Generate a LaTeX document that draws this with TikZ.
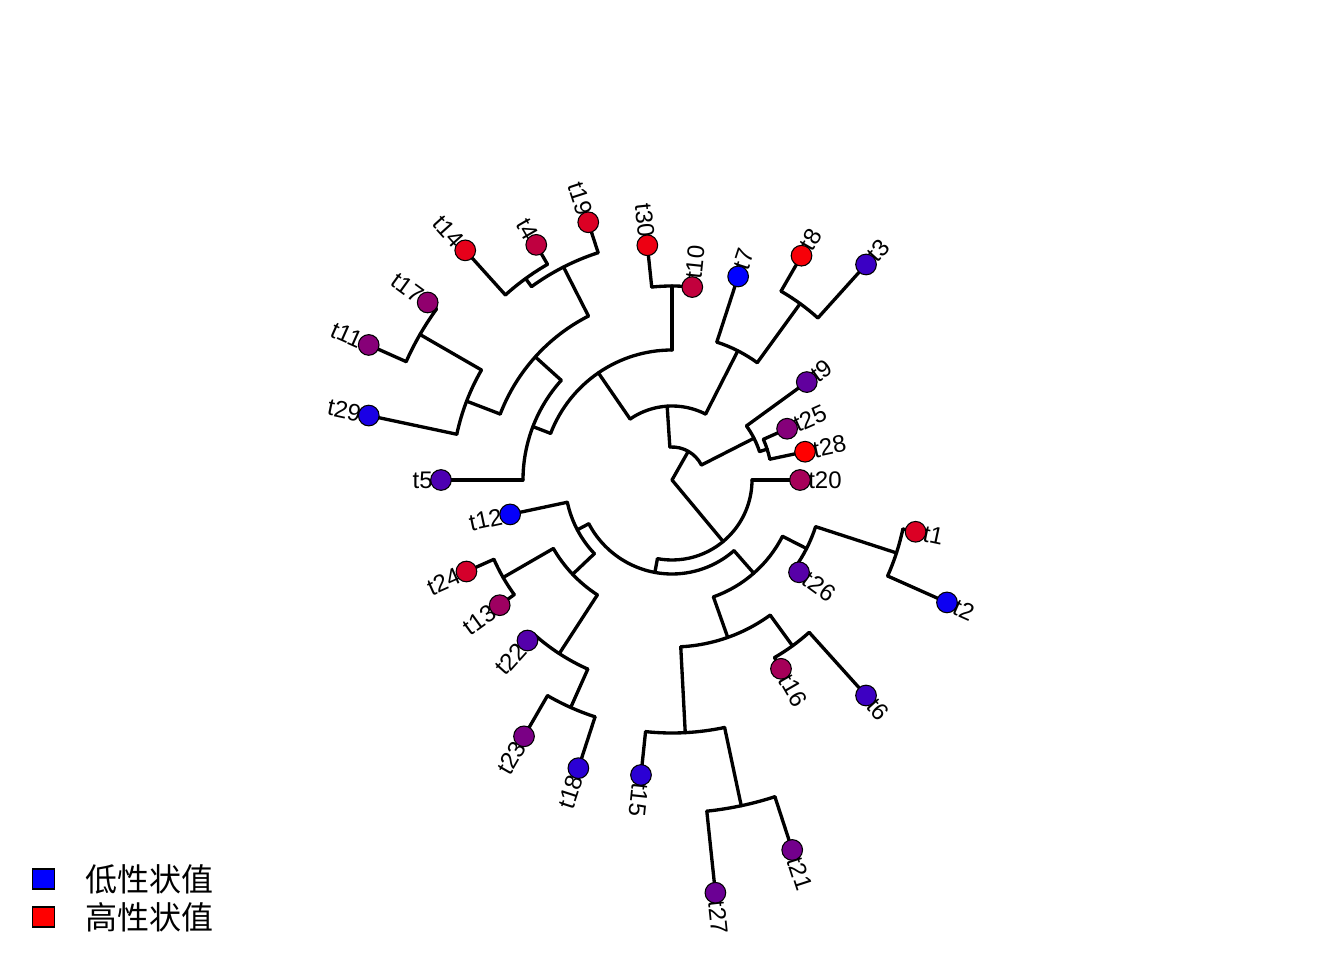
\documentclass[tikz,border=0pt]{standalone}
\usepackage{fontspec}
\setmainfont{Liberation Sans}
\newfontfamily\cjk{Noto Sans CJK SC}
\definecolor{c1}{RGB}{219,0,36}
\definecolor{c2}{RGB}{13,0,242}
\definecolor{c3}{RGB}{59,0,196}
\definecolor{c4}{RGB}{191,0,64}
\definecolor{c5}{RGB}{77,0,178}
\definecolor{c6}{RGB}{61,0,194}
\definecolor{c7}{RGB}{0,0,255}
\definecolor{c8}{RGB}{247,0,8}
\definecolor{c9}{RGB}{97,0,158}
\definecolor{c10}{RGB}{194,0,61}
\definecolor{c11}{RGB}{135,0,120}
\definecolor{c12}{RGB}{5,0,250}
\definecolor{c13}{RGB}{158,0,97}
\definecolor{c14}{RGB}{230,0,26}
\definecolor{c15}{RGB}{43,0,212}
\definecolor{c16}{RGB}{166,0,89}
\definecolor{c17}{RGB}{145,0,110}
\definecolor{c18}{RGB}{43,0,212}
\definecolor{c19}{RGB}{219,0,36}
\definecolor{c20}{RGB}{166,0,89}
\definecolor{c21}{RGB}{115,0,140}
\definecolor{c22}{RGB}{84,0,171}
\definecolor{c23}{RGB}{122,0,133}
\definecolor{c24}{RGB}{212,0,43}
\definecolor{c25}{RGB}{133,0,122}
\definecolor{c26}{RGB}{87,0,168}
\definecolor{c27}{RGB}{107,0,148}
\definecolor{c28}{RGB}{255,0,0}
\definecolor{c29}{RGB}{26,0,229}
\definecolor{c30}{RGB}{237,0,18}
\newcommand\farc[3]{\draw[edge] (#2:#1) arc[start angle=#2, end angle=#3, radius=#1*0.75pt];}
% tip: name, angle, radius
\newcommand\tipR[3]{\node[labr, rotate=#2] (l#1) at (#2:#3+8) {t#1};\node[dot, fill=c#1] (d#1) at (t#1) {};}
\newcommand\tipL[3]{\node[labl, rotate=#2-180] (l#1) at (#2:#3+8) {t#1};\node[dot, fill=c#1] (d#1) at (t#1) {};}
\begin{document}
\begin{tikzpicture}[x=0.75pt,y=0.75pt,
  edge/.style={line width=2.5pt, line cap=round, line join=round},
  dot/.style={circle, draw=black, line width=0.8pt, minimum size=15.5pt, inner sep=0pt},
  labr/.style={anchor=west, inner sep=0pt, font=\fontsize{18}{18}\selectfont},
  labl/.style={anchor=east, inner sep=0pt, font=\fontsize{18}{18}\selectfont},
  legbox/.style={draw=black, line width=0.8pt, minimum width=17pt, minimum height=15pt, inner sep=0pt},
  legtxt/.style={anchor=west, inner sep=0pt, font=\cjk\fontsize{24}{24}\selectfont}]
\useasboundingbox (0,0) rectangle (1344,960);
\begin{scope}[shift={(672,480)}]
% ---- coordinates: root and internal nodes
\coordinate (root) at (0,0);
\coordinate (A) at (60.4:33);
\coordinate (B) at (309.75:80);
\coordinate (Z) at (27:92);
\coordinate (AA) at (18:100);
\coordinate (M) at (93.75:74);
\coordinate (N) at (63:145);
\coordinate (O) at (54:218);
\coordinate (Q) at (124.5:130);
\coordinate (R) at (90:194);
\coordinate (S) at (159:149);
\coordinate (T) at (138:184);
\coordinate (U) at (117:239);
\coordinate (V) at (126:249);
\coordinate (X) at (159:220);
\coordinate (Y) at (150:291);
\coordinate (C) at (259.5:94);
\coordinate (P1) at (207.75:107);
\coordinate (P2) at (223.5:137);
\coordinate (W) at (210:195);
\coordinate (K) at (237:207);
\coordinate (L) at (246:249);
\coordinate (D) at (311.25:124);
\coordinate (E) at (289.5:167);
\coordinate (G) at (273:253);
\coordinate (H) at (282:333);
\coordinate (F) at (306:205);
\coordinate (I) at (333:151);
\coordinate (J) at (342:236);
% ---- tips
\coordinate (t28) at (12:136);
\coordinate (t25) at (24:126);
\coordinate (t9) at (36:166.6);
\coordinate (t3) at (48:290);
\coordinate (t8) at (60:259);
\coordinate (t7) at (72:214);
\coordinate (t10) at (84:194);
\coordinate (t30) at (96:236);
\coordinate (t19) at (108:271);
\coordinate (t4) at (120:271.5);
\coordinate (t14) at (132:309);
\coordinate (t17) at (144:302);
\coordinate (t11) at (156:332);
\coordinate (t29) at (168:310);
\coordinate (t5) at (180:231);
\coordinate (t12) at (192:165.5);
\coordinate (t24) at (204:225);
\coordinate (t13) at (216:213);
\coordinate (t22) at (228:216);
\coordinate (t23) at (240:296);
\coordinate (t18) at (252:303);
\coordinate (t15) at (264:296.6);
\coordinate (t27) at (276:415);
\coordinate (t21) at (288:389);
\coordinate (t16) at (300:218);
\coordinate (t6) at (312:290);
\coordinate (t26) at (324:157);
\coordinate (t2) at (336:301);
\coordinate (t1) at (348:249);
\coordinate (t20) at (360:128);
% ---- edges
\draw[edge] (root) -- (A);
\draw[edge] (root) -- (B);
\farc{33}{27}{93.75}
\draw[edge] (27:33) -- (Z);
\draw[edge] (93.75:33) -- (M);
\farc{92}{18}{36}
\draw[edge] (36:92) -- (t9);
\draw[edge] (18:92) -- (AA);
\farc{100}{12}{24}
\draw[edge] (24:100) -- (t25);
\draw[edge] (12:100) -- (t28);
\farc{74}{63}{124.5}
\draw[edge] (63:74) -- (N);
\draw[edge] (124.5:74) -- (Q);
\farc{145}{54}{72}
\draw[edge] (72:145) -- (t7);
\draw[edge] (54:145) -- (O);
\farc{218}{48}{60}
\draw[edge] (60:218) -- (t8);
\draw[edge] (48:218) -- (t3);
\farc{130}{90}{159}
\draw[edge] (90:130) -- (R);
\draw[edge] (159:130) -- (S);
\farc{194}{84}{96}
\draw[edge] (96:194) -- (t30);
\farc{149}{138}{180}
\draw[edge] (138:149) -- (T);
\draw[edge] (180:149) -- (t5);
\farc{184}{117}{159}
\draw[edge] (117:184) -- (U);
\draw[edge] (159:184) -- (X);
\farc{239}{108}{126}
\draw[edge] (108:239) -- (t19);
\draw[edge] (126:239) -- (V);
\farc{249}{120}{132}
\draw[edge] (120:249) -- (t4);
\draw[edge] (132:249) -- (t14);
\farc{220}{150}{168}
\draw[edge] (150:220) -- (Y);
\draw[edge] (168:220) -- (t29);
\farc{291}{144}{156}
\draw[edge] (144:291) -- (t17);
\draw[edge] (156:291) -- (t11);
\farc{80}{259.5}{360}
\draw[edge] (259.5:80) -- (C);
\draw[edge] (360:80) -- (t20);
\farc{94}{207.75}{311.25}
\draw[edge] (207.75:94) -- (P1);
\draw[edge] (311.25:94) -- (D);
\farc{107}{192}{223.5}
\draw[edge] (192:107) -- (t12);
\draw[edge] (223.5:107) -- (P2);
\farc{137}{210}{237}
\draw[edge] (210:137) -- (W);
\draw[edge] (237:137) -- (K);
\farc{195}{204}{216}
\draw[edge] (204:195) -- (t24);
\draw[edge] (216:195) -- (t13);
\farc{207}{228}{246}
\draw[edge] (228:207) -- (t22);
\draw[edge] (246:207) -- (L);
\farc{249}{240}{252}
\draw[edge] (240:249) -- (t23);
\draw[edge] (252:249) -- (t18);
\farc{124}{289.5}{333}
\draw[edge] (289.5:124) -- (E);
\draw[edge] (333:124) -- (I);
\farc{167}{273}{306}
\draw[edge] (273:167) -- (G);
\draw[edge] (306:167) -- (F);
\farc{253}{264}{282}
\draw[edge] (264:253) -- (t15);
\draw[edge] (282:253) -- (H);
\farc{333}{276}{288}
\draw[edge] (276:333) -- (t27);
\draw[edge] (288:333) -- (t21);
\farc{205}{300}{312}
\draw[edge] (300:205) -- (t16);
\draw[edge] (312:205) -- (t6);
\farc{151}{324}{342}
\draw[edge] (324:151) -- (t26);
\draw[edge] (342:151) -- (J);
\farc{236}{336}{348}
\draw[edge] (336:236) -- (t2);
\draw[edge] (348:236) -- (t1);
% ---- labels and dots
\tipR{28}{12}{136}
\tipR{25}{24}{126}
\tipR{9}{36}{166.6}
\tipR{3}{48}{290}
\tipR{8}{60}{259}
\tipR{7}{72}{214}
\tipR{10}{84}{194}
\tipL{30}{96}{236}
\tipL{19}{108}{271}
\tipL{4}{120}{271.5}
\tipL{14}{132}{309}
\tipL{17}{144}{302}
\tipL{11}{156}{332}
\tipL{29}{168}{310}
\tipL{5}{180}{231}
\tipL{12}{192}{165.5}
\tipL{24}{204}{225}
\tipL{13}{216}{213}
\tipL{22}{228}{216}
\tipL{23}{240}{296}
\tipL{18}{252}{303}
\tipR{15}{264}{296.6}
\tipR{27}{276}{415}
\tipR{21}{288}{389}
\tipR{16}{300}{218}
\tipR{6}{312}{290}
\tipR{26}{324}{157}
\tipR{2}{336}{301}
\tipR{1}{348}{249}
\tipR{20}{360}{128}
\end{scope}
% ---- legend
\node[legbox, fill=blue] (lb) at (43.5,81) {};
\node[legbox, fill=red] (lr) at (43.5,43) {};
\node[legtxt] (tb) at (85,81) {低性状值};
\node[legtxt] (tr) at (85,43) {高性状值};
\end{tikzpicture}
\end{document}
